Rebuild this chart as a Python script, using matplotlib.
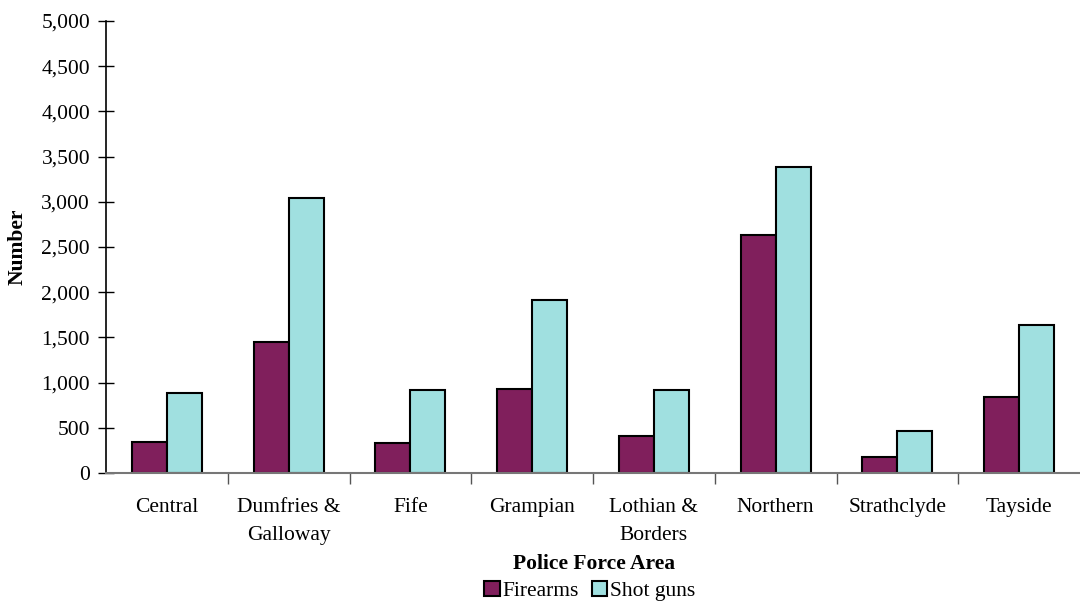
import matplotlib
matplotlib.use("Agg")
import matplotlib.pyplot as plt
import numpy as np
from matplotlib.ticker import FuncFormatter, FixedLocator

categories = ["Central", "Dumfries &\nGalloway", "Fife", "Grampian",
              "Lothian &\nBorders", "Northern", "Strathclyde", "Tayside"]
firearms = [346, 1449, 335, 929, 409, 2633, 180, 844]
shot_guns = [885, 3045, 921, 1914, 918, 3388, 468, 1634]
series_names = ["Firearms", "Shot guns"]
yticks = [0, 500, 1000, 1500, 2000, 2500, 3000, 3500, 4000, 4500, 5000]

c_fire = "#801F5C"
c_shot = "#A0E0E0"

plt.rcParams['font.family'] = ['Liberation Serif', 'DejaVu Serif']
FS = 15.5

fig = plt.figure(figsize=(10.8, 6.04), dpi=100)
ax = fig.add_axes([106/1080, 1-473/604, 1-106/1080, (473-21)/604])

x = np.arange(len(categories))
w = 0.288
ax.bar(x - w/2, firearms, w, color=c_fire, edgecolor="black", linewidth=1.5, label=series_names[0])
ax.bar(x + w/2, shot_guns, w, color=c_shot, edgecolor="black", linewidth=1.5, label=series_names[1])

ax.set_xlim(-0.5, 7.5)
ax.set_ylim(0, 5000)
ax.set_yticks(yticks)
ax.yaxis.set_major_formatter(FuncFormatter(lambda v, p: f"{int(v):,}"))
ax.tick_params(axis='y', direction='inout', length=11, width=1, labelsize=FS, pad=6)

ax.set_xticks(x)
ax.set_xticklabels(categories, fontsize=FS, linespacing=1.65)
ax.tick_params(axis='x', which='major', length=0, pad=18)
ax.xaxis.set_minor_locator(FixedLocator(np.arange(0.5, 7.5, 1.0)))
ax.tick_params(axis='x', which='minor', direction='out', length=8, width=1, color="#555555")

for s in ['top', 'right']:
    ax.spines[s].set_visible(False)
ax.spines['left'].set_linewidth(1.2)
ax.spines['bottom'].set_color("#777777")
ax.spines['bottom'].set_linewidth(1.5)

fig.text(18/1080, 1-247/604, "Number", rotation=90, fontsize=FS, fontweight='bold',
         ha='center', va='center')
fig.text(594/1080, 1-564/604, "Police Force Area", fontsize=FS, fontweight='bold',
         ha='center', va='center')

fig.legend(loc='center', bbox_to_anchor=(590/1080, 1-591/604), ncol=2, frameon=False,
           fontsize=FS, handlelength=0.7, handleheight=0.7, handletextpad=0.15,
           columnspacing=0.6, borderaxespad=0, borderpad=0)

fig.savefig("out.png", dpi=100)
